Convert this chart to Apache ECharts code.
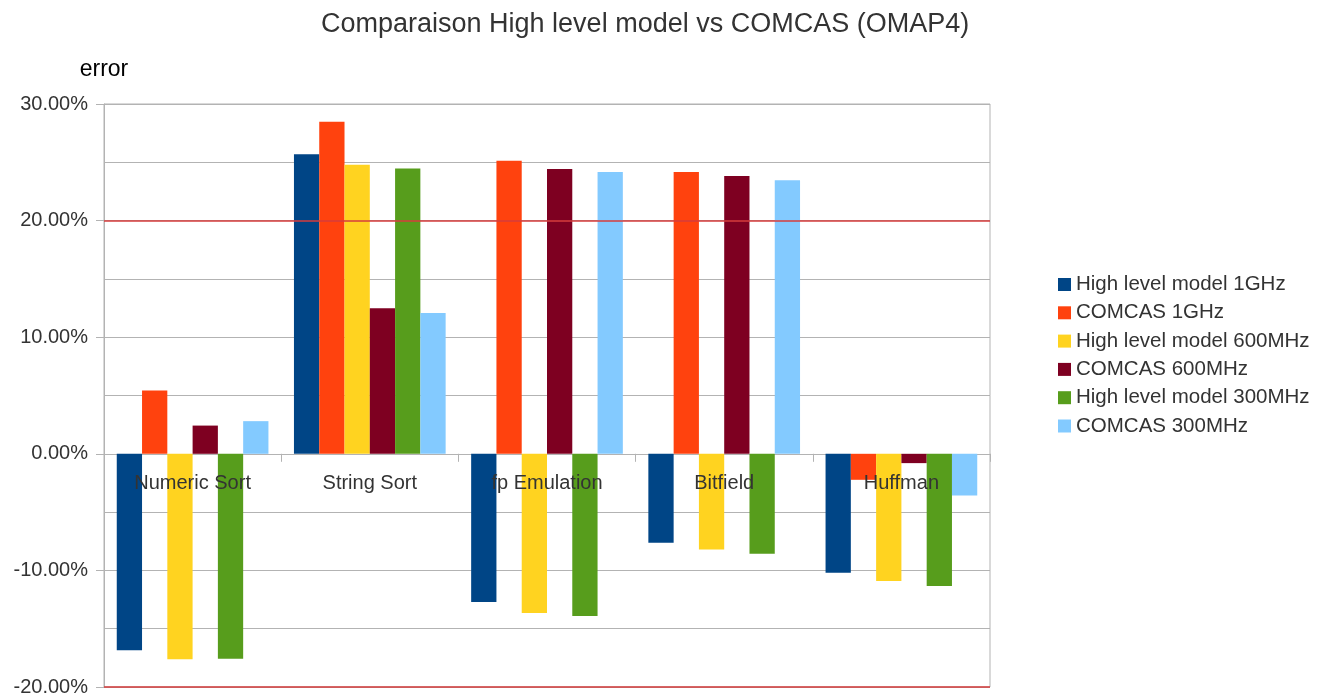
<!DOCTYPE html>
<html>
<head>
<meta charset="utf-8">
<script src="https://cdn.jsdelivr.net/npm/echarts@6/dist/echarts.min.js"></script>
<style>html,body{margin:0;padding:0;background:#fff;}#c{width:1327px;height:696px;}</style>
</head>
<body>
<div id="c"></div>
<script>
const categories = ['Numeric Sort', 'String Sort', 'fp Emulation', 'Bitfield', 'Huffman'];
const seriesNames = ['High level model 1GHz', 'COMCAS 1GHz', 'High level model 600MHz', 'COMCAS 600MHz', 'High level model 300MHz', 'COMCAS 300MHz'];
const hl1GHz   = [-16.85, 25.7, -12.72, -7.63, -10.2];
const comcas1GHz = [5.42, 28.47, 25.13, 24.16, -2.23];
const hl600MHz = [-17.63, 24.79, -13.66, -8.2, -10.91];
const comcas600MHz = [2.42, 12.48, 24.42, 23.82, -0.8];
const hl300MHz = [-17.57, 24.47, -13.91, -8.57, -11.34];
const comcas300MHz = [2.8, 12.08, 24.16, 23.45, -3.57];
const colors = ['#004586', '#ff420e', '#ffd320', '#7e0021', '#579d1c', '#83caff'];
const thresholds = [20, -20];

const allData = [hl1GHz, comcas1GHz, hl600MHz, comcas600MHz, hl300MHz, comcas300MHz];
const FONT = '"Liberation Sans", Arial, sans-serif';

const chart = echarts.init(document.getElementById('c'), null, {renderer: 'canvas'});
const series = allData.map((d, i) => {
  const s = {
    name: seriesNames[i],
    type: 'bar',
    data: d,
    barGap: '0%',
    barCategoryGap: '14.4%',
    itemStyle: {color: colors[i]}
  };
  if (i === 5) {
    s.markLine = {
      silent: true,
      symbol: 'none',
      label: {show: false},
      lineStyle: {color: '#d63c3c', width: 1.5, type: 'solid'},
      data: thresholds.map(t => ({yAxis: t}))
    };
  }
  return s;
});

chart.setOption({
  backgroundColor: '#ffffff',
  animation: false,
  color: colors,
  title: {
    text: 'Comparaison High level model vs COMCAS (OMAP4)',
    left: 316,
    top: 6,
    textStyle: {fontFamily: FONT, fontSize: 27, fontWeight: 'normal', color: '#333'}
  },
  legend: {
    orient: 'vertical',
    left: 1053,
    top: 269,
    icon: 'rect',
    itemWidth: 13,
    itemHeight: 13,
    itemGap: 7.3,
    textStyle: {fontFamily: FONT, fontSize: 20.5, color: '#333', lineHeight: 21},
    data: seriesNames
  },
  grid: {
    left: 104, right: 337, top: 104, bottom: 9,
    outerBoundsMode: 'none',
    containLabel: false,
    show: true, borderColor: '#b3b3b3', borderWidth: 1
  },
  xAxis: {
    type: 'category',
    data: categories,
    z: 10,
    axisLine: {show: false, onZero: true, lineStyle: {color: '#b3b3b3'}},
    axisTick: {show: true, length: 8, lineStyle: {color: '#b3b3b3'}},
    axisLabel: {show: true, interval: 0, margin: -214, fontFamily: FONT, fontSize: 20, color: '#333'},
    splitLine: {show: false}
  },
  yAxis: {
    type: 'value',
    min: -20, max: 30, interval: 10,
    name: 'error',
    nameLocation: 'end',
    nameGap: 23,
    nameTextStyle: {fontFamily: FONT, fontSize: 23, color: '#000', align: 'center'},
    axisLine: {show: true, lineStyle: {color: '#b3b3b3'}},
    axisTick: {show: true, length: 8, lineStyle: {color: '#b3b3b3'}},
    axisLabel: {margin: 16, fontFamily: FONT, fontSize: 20, color: '#333', formatter: v => v.toFixed(2) + '%'},
    splitLine: {show: true, lineStyle: {color: '#b3b3b3', width: 1}},
    minorTick: {show: false, splitNumber: 2},
    minorSplitLine: {show: true, lineStyle: {color: '#b3b3b3', width: 1}}
  },
  series: series
});
</script>
</body>
</html>
